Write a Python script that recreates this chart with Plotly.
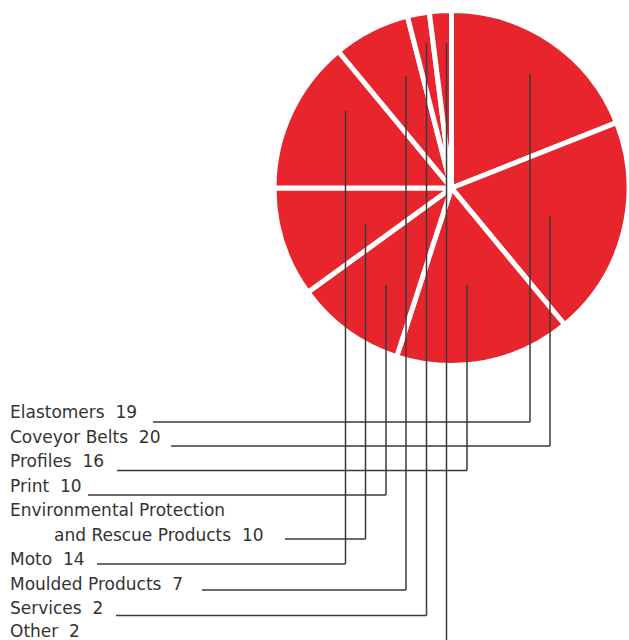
import plotly.graph_objects as go

# ---------------- data ----------------
labels = ["Elastomers", "Coveyor Belts", "Profiles", "Print",
          "Environmental Protection and Rescue Products", "Moto",
          "Moulded Products", "Services", "Other"]
values = [19, 20, 16, 10, 10, 14, 7, 2, 2]

# ---------------- layout constants (pixels) ----------------
W, H = 629, 640
RED = "#e8252c"
TEXT = "#333333"
LINE = "#3a3a3a"
FONT = dict(family="DejaVu Sans", size=17, color=TEXT)

# pie geometry
R = 177.5
CX, CY = W - R, 188.0

# label rows: text baseline of row 0 and row pitch
BASE0, PITCH = 418.0, 24.5
# row index of each label (Environmental label spans two rows: 4 and 5)
label_rows = [0, 1, 2, 3, 5, 6, 7, 8, 9]
# leader routing (callout placement): start of horizontal, its y, column x, tip y
lead_start_x = [153, 171, 117, 88, 285, 97, 202, 116, None]
lead_y = [422, 446, 470.5, 495, 539, 564, 590, 615.5, None]
lead_col_x = [530, 550, 467, 386, 365.5, 345.5, 406, 426.5, 446.5]
lead_tip_y = [74, 216, 285, 285, 224, 111, 76, 43, 43]
TEXT_X, INDENT_X, BASE_SHIFT = 8, 52, 6.0


def px(x):
    return x / W


def py(y):
    return 1 - y / H


fig = go.Figure()
fig.add_trace(go.Pie(
    labels=labels, values=values, sort=False, direction="clockwise",
    rotation=0, textinfo="none", hoverinfo="label+value",
    marker=dict(colors=[RED] * len(values), line=dict(color="white", width=5)),
    domain=dict(x=[px(CX - R), 1.0], y=[py(CY + R), py(CY - R)]),
    showlegend=False,
))

shapes = []
for i in range(len(labels)):
    lw = dict(color=LINE, width=1.5)
    if lead_y[i] is not None:
        shapes.append(dict(type="line", xref="paper", yref="paper", layer="above",
                           x0=px(lead_start_x[i]), x1=px(lead_col_x[i]),
                           y0=py(lead_y[i]), y1=py(lead_y[i]), line=lw))
        ybot = lead_y[i]
    else:
        ybot = H + 5
    shapes.append(dict(type="line", xref="paper", yref="paper", layer="above",
                       x0=px(lead_col_x[i]), x1=px(lead_col_x[i]),
                       y0=py(ybot), y1=py(lead_tip_y[i]), line=lw))

annotations = []
NB = "\u00a0 "
for i, (lab, v) in enumerate(zip(labels, values)):
    base = min(BASE0 + PITCH * label_rows[i], H - 3)
    if lab.startswith("Environmental"):
        annotations.append(dict(text="Environmental Protection", x=px(TEXT_X),
                                y=py(BASE0 + PITCH * 4 - BASE_SHIFT), xref="paper", yref="paper",
                                xanchor="left", yanchor="middle", showarrow=False, font=FONT))
        annotations.append(dict(text="and Rescue Products" + NB + str(v), x=px(INDENT_X),
                                y=py(base - BASE_SHIFT), xref="paper", yref="paper",
                                xanchor="left", yanchor="middle", showarrow=False, font=FONT))
    else:
        annotations.append(dict(text=lab + NB + str(v), x=px(TEXT_X), y=py(base - BASE_SHIFT),
                                xref="paper", yref="paper", xanchor="left",
                                yanchor="middle", showarrow=False, font=FONT))

fig.update_layout(
    width=W, height=H, margin=dict(l=0, r=0, t=0, b=0),
    paper_bgcolor="white", plot_bgcolor="white",
    shapes=shapes, annotations=annotations, showlegend=False,
)
fig.write_html("out.html")
